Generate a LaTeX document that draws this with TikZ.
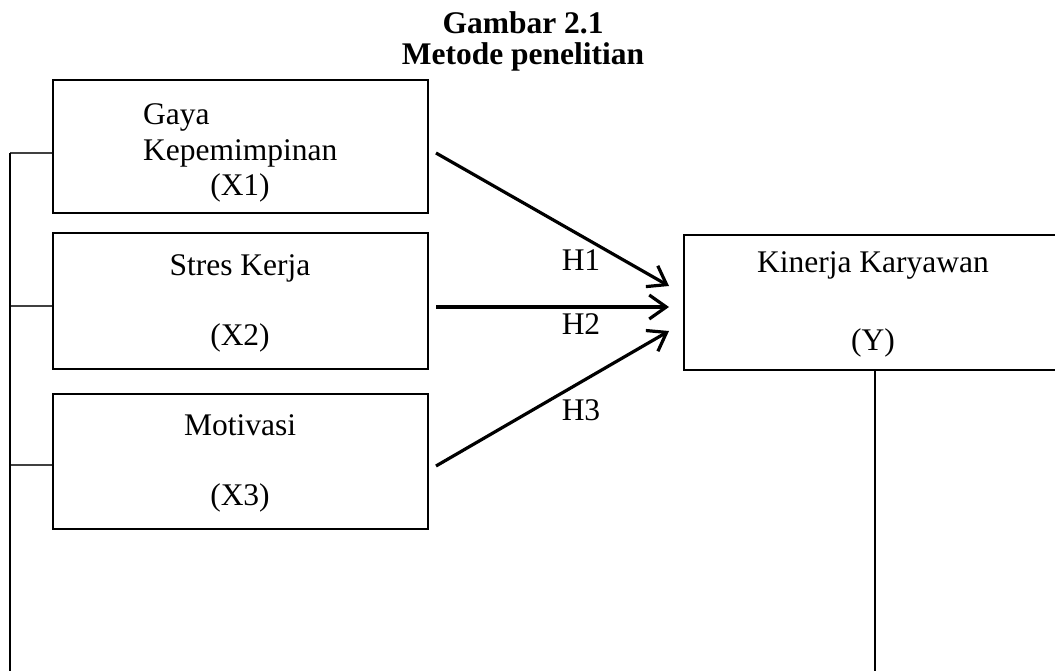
\documentclass[tikz,border=0pt]{standalone}
\usepackage{fontspec}
\setmainfont{Liberation Serif}
\usetikzlibrary{arrows.meta}
\begin{document}
\begin{tikzpicture}[x=1pt,y=-1pt,font=\fontsize{31.5}{38}\selectfont]
\useasboundingbox (0,0) rectangle (1055,671);
\clip (0,0) rectangle (1055,671);
\tikzset{
 varbox/.style={draw, line width=2pt, rectangle, inner sep=0pt, minimum width=375pt},
 hyparrow/.style={line width=3.2pt, -{Straight Barb[length=17pt,width=24pt,line width=3.2pt]}},
 tick/.style={line width=1.2pt, black!75}
}
\node (t1) at (523,23) {\bfseries Gambar 2.1};
\node (t2) at (523,57) {\bfseries Metode penelitian};

\node (x1) at (240.5,146.5) [varbox, minimum height=133pt] {};
\node (x2) at (240.5,301) [varbox, minimum height=136pt] {};
\node (x3) at (240.5,461.5) [varbox, minimum height=135pt] {};
\node (y) at (877,302.5) [varbox, minimum width=386pt, minimum height=135pt] {};

\node (x1a) at (143,117) [anchor=west, inner sep=0pt] {Gaya};
\node (x1b) at (143,153) [anchor=west, inner sep=0pt] {Kepemimpinan};
\node (x1c) at (240,188) {(X1)};
\node (x2a) at (240,268) {Stres Kerja};
\node (x2c) at (240,338) {(X2)};
\node (x3a) at (240,425) {Motivasi};
\node (x3c) at (240,498) {(X3)};
\node (ya) at (873,265) {Kinerja Karyawan};
\node (yc) at (873,343) {(Y)};

\coordinate (s1) at (436,153);
\coordinate (s2) at (436,307);
\coordinate (s3) at (436,466);
\coordinate (e1) at (669,286);
\coordinate (e2) at (669,307);
\coordinate (e3) at (669,331);
\draw[hyparrow] (s1) to (e1);
\draw[hyparrow] (s2) to (e2);
\draw[hyparrow] (s3) to (e3);
\node (h1) at (581,260) {H1};
\node (h2) at (581,324) {H2};
\node (h3) at (581,410) {H3};

\coordinate (l1) at (10,153);
\coordinate (l2) at (10,306);
\coordinate (l3) at (10,465);
\coordinate (lb) at (10,680);
\coordinate (rb) at (875,680);
\draw[tick]
(l1) to (x1.west |- l1)
(l2) to (x2.west |- l2)
(l3) to (x3.west |- l3);
\draw[line width=2.2pt] (l1) to (lb);
\draw[line width=2.2pt] (y.south -| rb) to (rb);
\end{tikzpicture}
\end{document}
